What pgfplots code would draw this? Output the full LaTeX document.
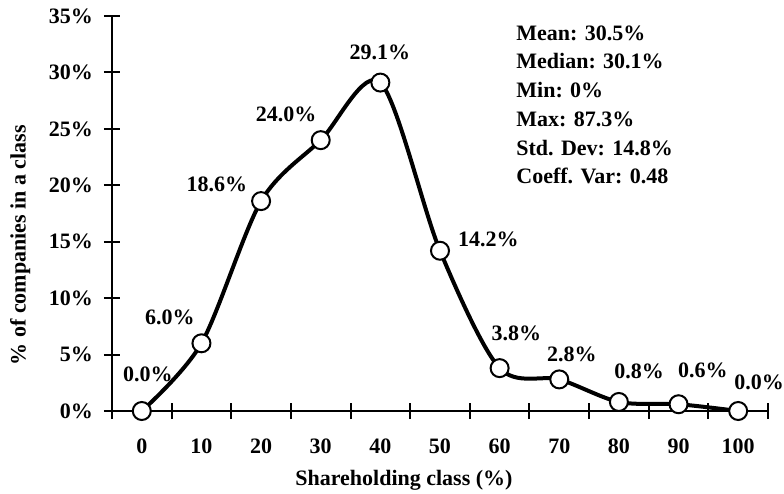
\documentclass[border=0pt]{standalone}
\usepackage{pgfplots}
\pgfplotsset{compat=1.18}
\usepackage{fontspec}
\setmainfont{Liberation Serif}
\newcommand\cf{\fontsize{11pt}{14.35pt}\selectfont\bfseries}
\begin{document}
\begin{tikzpicture}
\begin{axis}[
  scale only axis,
  width=328pt, height=197.5pt,
  xmin=-0.5, xmax=10.5, ymin=0, ymax=35,
  axis lines*=left,
  axis line style={line width=1pt},
  clip=false,
  font=\cf,
  tick align=center,
  major tick length=8pt,
  tick style={line width=1pt, black},
  xtick={-0.5,0.5,1.5,2.5,3.5,4.5,5.5,6.5,7.5,8.5,9.5,10.5},
  xticklabels={},
  extra x ticks={0,1,2,3,4,5,6,7,8,9,10},
  extra x tick labels={0,10,20,30,40,50,60,70,80,90,100},
  extra x tick style={tick style={draw=none}, xticklabel style={yshift=-6.5pt}},
  ytick={0,5,10,15,20,25,30,35},
  yticklabels={0\%,5\%,10\%,15\%,20\%,25\%,30\%,35\%},
  yticklabel style={xshift=-2pt},
  xlabel={Shareholding class (\%)},
  ylabel={\% of companies in a class},
  every axis x label/.style={at={(axis description cs:0.445,-0.175)}, anchor=center},
  every axis y label/.style={at={(axis description cs:-0.14,0.42)}, rotate=90, anchor=center},
]
\addplot[line width=2pt, black, smooth, tension=0.5,
  mark=*, mark size=4.5pt, mark options={fill=white, draw=black, line width=1pt}]
  coordinates {(0,0.0) (1,6.0) (2,18.6) (3,24.0) (4,29.1) (5,14.2) (6,3.8) (7,2.8) (8,0.8) (9,0.6) (10,0.0)};
\node[font=\cf] at (axis cs:0.10,3.28) {0.0\%};
\node[font=\cf] at (axis cs:0.47,8.33) {6.0\%};
\node[font=\cf] at (axis cs:1.26,20.1) {18.6\%};
\node[font=\cf] at (axis cs:2.42,26.3) {24.0\%};
\node[font=\cf] at (axis cs:3.99,31.8) {29.1\%};
\node[font=\cf] at (axis cs:5.81,15.2) {14.2\%};
\node[font=\cf] at (axis cs:6.28,6.9) {3.8\%};
\node[font=\cf] at (axis cs:7.21,5.05) {2.8\%};
\node[font=\cf] at (axis cs:8.34,3.54) {0.8\%};
\node[font=\cf] at (axis cs:9.41,3.63) {0.6\%};
\node[font=\cf] at (axis cs:10.35,2.57) {0.0\%};
\node[font=\cf, anchor=base west, inner sep=0pt] at (axis cs:6.275,32.87) {Mean: 30.5\%};
\node[font=\cf, anchor=base west, inner sep=0pt] at (axis cs:6.275,30.39) {Median: 30.1\%};
\node[font=\cf, anchor=base west, inner sep=0pt] at (axis cs:6.275,27.82) {Min: 0\%};
\node[font=\cf, anchor=base west, inner sep=0pt] at (axis cs:6.275,25.25) {Max: 87.3\%};
\node[font=\cf, anchor=base west, inner sep=0pt] at (axis cs:6.275,22.68) {Std. Dev: 14.8\%};
\node[font=\cf, anchor=base west, inner sep=0pt] at (axis cs:6.275,20.20) {Coeff. Var: 0.48};
\end{axis}
\pgfresetboundingbox
\path (-56pt,-41.5pt) rectangle (336pt,205.5pt);
\end{tikzpicture}
\end{document}
